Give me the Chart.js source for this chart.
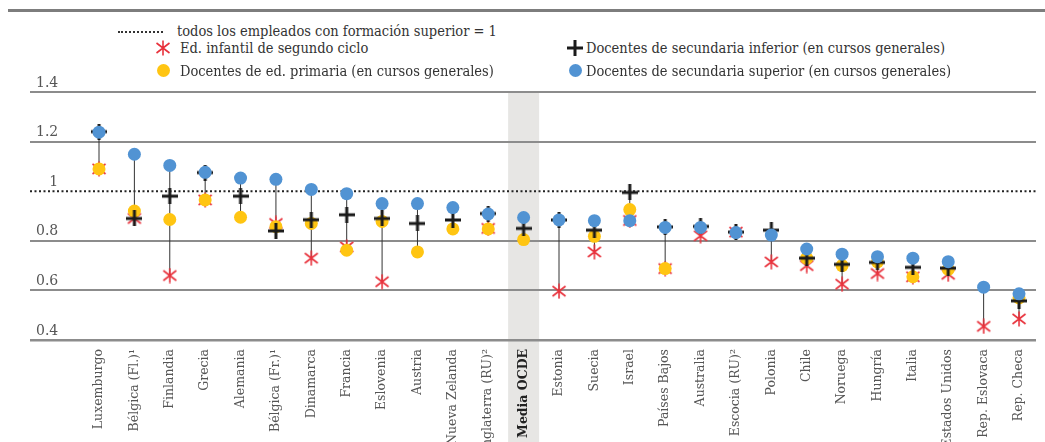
<!DOCTYPE html>
<html>
<head>
<meta charset="utf-8">
<script src="https://cdn.jsdelivr.net/npm/chart.js@4/dist/chart.umd.min.js"></script>
<style>
  body { margin: 0; background: #fff; }
  #marco { position: relative; width: 1045px; height: 442px; overflow: hidden; }
  #grafico { position: absolute; left: 0; top: 0; }
  .barra { position: absolute; left: 8px; right: 0; top: 9px; height: 3px; background: #7d7d7d; }
  .leyenda { position: absolute; font-family: "DejaVu Serif Condensed", "DejaVu Serif", serif; font-stretch: condensed; font-size: 14.5px; color: #333; white-space: nowrap; line-height: 18px; }
  .punteado { position: absolute; left: 118px; top: 31px; width: 45px; border-top: 2px dotted #333; }
  .circulo { position: absolute; width: 13px; height: 13px; border-radius: 50%; }
  .marca { position: absolute; }
</style>
</head>
<body>
<div id="marco">
  <div class="barra"></div>
  <div class="punteado"></div>
  <div class="leyenda" style="left:177px; top:22px;">todos los empleados con formación superior = 1</div>
  <canvas class="marca" id="mAst" width="16" height="16" style="left:155px; top:40px;"></canvas>
  <div class="leyenda" style="left:180px; top:39px;">Ed. infantil de segundo ciclo</div>
  <canvas class="marca" id="mMas" width="16" height="16" style="left:567px; top:40px;"></canvas>
  <div class="leyenda" style="left:586px; top:39px;">Docentes de secundaria inferior (en cursos generales)</div>
  <div class="circulo" style="left:157px; top:64px; background:#ffc512;"></div>
  <div class="leyenda" style="left:180px; top:62px;">Docentes de ed. primaria (en cursos generales)</div>
  <div class="circulo" style="left:569px; top:64px; background:#5193d3;"></div>
  <div class="leyenda" style="left:586px; top:62px;">Docentes de secundaria superior (en cursos generales)</div>
  <canvas id="grafico" width="1045" height="442"></canvas>
</div>
<script>
// ratio de salarios respecto a trabajadores con formación superior
const paises = ['Luxemburgo', 'Bélgica (Fl.)¹', 'Finlandia', 'Grecia', 'Alemania', 'Bélgica (Fr.)¹',
  'Dinamarca', 'Francia', 'Eslovenia', 'Austria', 'Nueva Zelanda', 'Inglaterra (RU)²', 'Media OCDE',
  'Estonia', 'Suecia', 'Israel', 'Países Bajos', 'Australia', 'Escocia (RU)²', 'Polonia', 'Chile',
  'Noruega', 'Hungría', 'Italia', 'Estados Unidos', 'Rep. Eslovaca', 'Rep. Checa'];

const infantil = [1.09, 0.89, 0.66, 0.965, null, 0.87, 0.73, 0.775, 0.635, null, null, 0.85, null,
  0.597, 0.755, 0.882, 0.688, 0.82, 0.835, 0.715, 0.70, 0.625, 0.668, 0.655, 0.665, 0.455, 0.485];
const primaria = [1.09, 0.92, 0.886, 0.965, 0.895, 0.857, 0.87, 0.762, 0.878, 0.755, 0.848, 0.848, 0.805,
  null, 0.818, 0.926, 0.688, null, null, null, 0.73, 0.70, 0.715, 0.655, 0.685, null, 0.57];
const secInferior = [1.24, 0.89, 0.98, 1.075, 0.98, 0.84, 0.885, 0.905, 0.89, 0.87, 0.884, 0.91, 0.85,
  0.884, 0.843, 0.995, 0.856, 0.858, 0.835, 0.843, 0.73, 0.705, 0.713, 0.693, 0.69, null, 0.558];
const secSuperior = [1.238, 1.149, 1.104, 1.076, 1.053, 1.048, 1.007, 0.99, 0.95, 0.95, 0.934, 0.908, 0.894,
  0.884, 0.881, 0.881, 0.854, 0.854, 0.833, 0.823, 0.767, 0.746, 0.736, 0.73, 0.716, 0.613, 0.586];

const ticksY = [0.4, 0.6, 0.8, 1, 1.2, 1.4];
const referencia = 1;
const mediaOCDE = 'Media OCDE';

function dibujarAsterisco(c) {
  const g = c.getContext('2d');
  g.strokeStyle = '#e8323c';
  g.lineWidth = 1.6;
  g.beginPath();
  g.moveTo(8, 0.5); g.lineTo(8, 15.5);
  g.moveTo(1.5, 3); g.lineTo(14.5, 13);
  g.moveTo(1.5, 13); g.lineTo(14.5, 3);
  g.stroke();
  return c;
}
function dibujarMas(c) {
  const g = c.getContext('2d');
  g.fillStyle = '#1a1a1a';
  g.fillRect(0, 6.5, 16, 3);
  g.fillRect(6.5, 0, 3, 16);
  return c;
}
function nuevoCanvas() {
  const c = document.createElement('canvas');
  c.width = 16; c.height = 16;
  return c;
}

const asterisco = dibujarAsterisco(nuevoCanvas());
const mas = dibujarMas(nuevoCanvas());
dibujarAsterisco(document.getElementById('mAst'));
dibujarMas(document.getElementById('mMas'));

const puntos = serie => serie.map((v, i) => ({ x: i, y: v }));

// lineas verticales entre el minimo y el maximo de cada pais
const tallos = [];
paises.forEach((p, i) => {
  const vals = [infantil[i], primaria[i], secInferior[i], secSuperior[i]].filter(v => v !== null);
  tallos.push({ x: i, y: Math.min(...vals) }, { x: i, y: Math.max(...vals) }, { x: i, y: null });
});

const xMin = -1.95, xMax = 26.48;

const faixa = {
  id: 'faixa',
  beforeDraw(chart) {
    const { ctx, chartArea, scales } = chart;
    const cx = scales.x.getPixelForValue(paises.indexOf(mediaOCDE));
    ctx.save();
    ctx.fillStyle = '#e7e6e4';
    ctx.fillRect(cx - 15.5, chartArea.top, 31, chart.height - chartArea.top);
    ctx.restore();
  }
};

new Chart(document.getElementById('grafico'), {
  type: 'scatter',
  data: {
    datasets: [
      { label: 'Docentes de secundaria superior (en cursos generales)', data: puntos(secSuperior), order: 0,
        pointStyle: 'circle', pointRadius: 6.5, backgroundColor: '#5193d3', borderWidth: 0 },
      { label: 'Docentes de secundaria inferior (en cursos generales)', data: puntos(secInferior), order: 1,
        pointStyle: mas, pointRadius: 8 },
      { label: 'Docentes de ed. primaria (en cursos generales)', data: puntos(primaria), order: 2,
        pointStyle: 'circle', pointRadius: 6.5, backgroundColor: '#ffc512', borderWidth: 0 },
      { label: 'Ed. infantil de segundo ciclo', data: puntos(infantil), order: 3,
        pointStyle: asterisco, pointRadius: 8 },
      { type: 'line', label: 'rango', data: tallos, order: 4, spanGaps: false,
        borderColor: '#333', borderWidth: 1, pointRadius: 0 },
      { type: 'line', label: 'todos los empleados con formación superior = 1', order: 5,
        data: [{ x: xMin, y: referencia }, { x: xMax, y: referencia }],
        borderColor: '#222', borderWidth: 2, borderDash: [2, 2.5], pointRadius: 0 }
    ]
  },
  options: {
    responsive: false,
    animation: false,
    events: [],
    layout: { padding: { left: 18, right: 9, top: 92, bottom: 0 } },
    plugins: { legend: { display: false }, tooltip: { enabled: false } },
    scales: {
      x: {
        type: 'linear', min: xMin, max: xMax,
        afterBuildTicks: ax => { ax.ticks = paises.map((p, i) => ({ value: i })); },
        afterFit: ax => { ax.height = 102; },
        grid: { display: false },
        border: { display: false },
        ticks: {
          autoSkip: false, minRotation: 90, maxRotation: 90, padding: 1,
          callback: v => paises[v],
          color: ctx => paises[ctx.tick && ctx.tick.value] === mediaOCDE ? '#222' : '#555',
          font: ctx => ({ family: 'DejaVu Serif', size: 12.5,
            weight: paises[ctx.tick && ctx.tick.value] === mediaOCDE ? 'bold' : 'normal' })
        }
      },
      y: {
        min: 0.4, max: 1.4,
        afterBuildTicks: ax => { ax.ticks = ticksY.map(v => ({ value: v })); },
        grid: {
          drawTicks: false,
          color: ctx => ctx.tick && ctx.tick.value === referencia ? 'rgba(0,0,0,0)' : '#8c8c8c',
          lineWidth: ctx => ctx.tick && ctx.tick.value === 0.4 ? 2.5 : 2
        },
        border: { display: false },
        ticks: {
          mirror: true, crossAlign: 'far', padding: 6, labelOffset: -9,
          callback: v => String(v),
          color: '#555', font: { family: 'DejaVu Serif', size: 14 }
        }
      }
    }
  },
  plugins: [faixa]
});
</script>
</body>
</html>
